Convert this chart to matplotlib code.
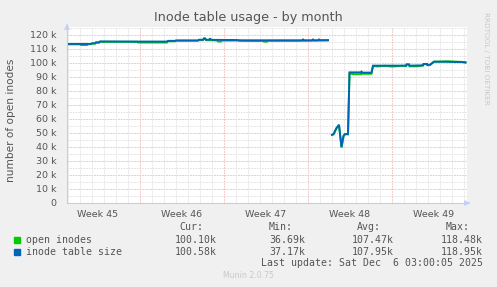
import matplotlib
matplotlib.use("Agg")
import matplotlib.pyplot as plt
import numpy as np

# ---- data (hours since graph start, values in thousands) ----
size_seg1_h = [0, 48, 50, 56, 58, 64, 66, 136, 200, 202, 216, 218, 262, 264, 272, 274, 276, 278,
               284, 286, 290, 340, 346, 470, 472, 474, 490, 492, 494, 502, 504, 506, 522]
size_seg1_v = [113.6, 113.6, 114.1, 114.1, 114.8, 114.8, 115.4, 115.3, 115.3, 115.8, 115.8, 116.1,
               116.1, 116.6, 116.6, 117.6, 117.6, 116.6, 116.6, 117.3, 116.5, 116.4, 116.2, 116.2,
               116.8, 116.2, 116.2, 116.8, 116.2, 116.2, 116.8, 116.3, 116.3]
open_seg1_h = [0, 26, 28, 40, 42, 48, 50, 56, 58, 64, 66, 140, 142, 200, 202, 216, 218, 262, 264,
               272, 274, 276, 278, 300, 302, 308, 310, 340, 346, 380, 392, 394, 400, 402, 460, 522]
open_seg1_v = [113.3, 113.3, 112.8, 112.8, 113.4, 113.4, 113.8, 113.8, 114.4, 114.4, 115.1, 115.1,
               114.6, 114.6, 115.5, 115.5, 115.9, 115.9, 116.3, 116.3, 117.3, 117.3, 116.3, 116.1,
               115.3, 115.3, 116.0, 116.0, 115.8, 115.7, 115.7, 115.2, 115.2, 115.8, 115.8, 116.1]

size_seg2_h = [530, 533, 539, 544, 547, 549, 553, 556, 562, 565, 588, 589, 591, 609, 612, 678, 679,
               684, 685, 712, 713, 720, 721, 726, 734, 797]
size_seg2_v = [48.8, 49.2, 53.6, 55.9, 46.4, 40.0, 48.0, 49.3, 49.3, 93.3, 93.3, 93.8, 93.1, 93.1,
               98.1, 98.1, 99.0, 99.0, 98.1, 98.3, 99.3, 99.3, 98.6, 98.8, 101.0, 100.6]
open_seg2_h = [530, 533, 539, 544, 547, 549, 553, 556, 562, 565, 574, 588, 589, 591, 609, 612, 622,
               636, 650, 670, 678, 679, 684, 685, 700, 712, 713, 720, 721, 726, 734, 760, 790, 797]
open_seg2_v = [48.5, 49.0, 53.3, 55.6, 46.0, 39.6, 47.6, 49.0, 49.0, 92.5, 92.0, 92.0, 93.4, 92.3,
               92.3, 97.8, 97.5, 98.0, 97.4, 98.0, 97.8, 98.8, 98.8, 97.6, 97.6, 98.2, 99.1, 99.1,
               98.4, 98.5, 100.8, 101.2, 100.8, 100.1]

week_labels = ["Week 45", "Week 46", "Week 47", "Week 48", "Week 49"]
week_bounds_h = [146, 314, 482, 650]
yticks_k = [0, 10, 20, 30, 40, 50, 60, 70, 80, 90, 100, 110, 120]

series_names = ["open inodes", "inode table size"]
cur_vals = ["100.10k", "100.58k"]
min_vals = ["36.69k", "37.17k"]
avg_vals = ["107.47k", "107.95k"]
max_vals = ["118.48k", "118.95k"]

GREEN = "#00CC00"
BLUE = "#0066B3"
W, H = 497, 287

fig = plt.figure(figsize=(W / 100, H / 100), dpi=100, facecolor="#F0F0F0")

def fx(px):
    return px / W

def fy(py):
    return 1 - py / H

ax_left, ax_right, ax_top, ax_bot = 67, 467, 27, 203
ax = fig.add_axes([fx(ax_left), fy(ax_bot), (ax_right - ax_left) / W, (ax_bot - ax_top) / H])
ax.set_facecolor("white")
ax.set_xlim(0, 800)
ax.set_ylim(0, 125.7)

# grid
minor_col = "#E0E0E0"
major_col = "#F0B8B8"
dash = (0, (2, 1.2))
for v in np.arange(5, 126, 10):
    ax.axhline(v, color=minor_col, lw=0.6, ls=dash, zorder=1)
for v in yticks_k[1:]:
    ax.axhline(v, color=major_col, lw=0.6, ls=dash, zorder=1)
day_lines = np.arange(week_bounds_h[0] - 6 * 24, 800, 24)
for d in day_lines:
    if d > 0 and d not in week_bounds_h:
        ax.axvline(d, color=minor_col, lw=0.6, ls=dash, zorder=1)
for d in week_bounds_h:
    ax.axvline(d, color=major_col, lw=0.6, ls=dash, zorder=1)

# data
ax.plot(open_seg1_h, open_seg1_v, color=GREEN, lw=1.4, zorder=3, solid_joinstyle="miter")
ax.plot(open_seg2_h, open_seg2_v, color=GREEN, lw=1.4, zorder=3, solid_joinstyle="miter")
ax.plot(size_seg1_h, size_seg1_v, color=BLUE, lw=1.4, zorder=4, solid_joinstyle="miter")
ax.plot(size_seg2_h, size_seg2_v, color=BLUE, lw=1.4, zorder=4, solid_joinstyle="miter")

# axes styling
for s in ax.spines.values():
    s.set_visible(False)
ax.set_xticks([])
ax.set_yticks(yticks_k)
ax.set_yticklabels(["0" if v == 0 else f"{v} k" for v in yticks_k])
ax.tick_params(axis="y", length=0, pad=7.5, labelsize=6.8, labelcolor="#555555")

axis_col = "#C8CCF0"
fig.add_artist(plt.Line2D([fx(67), fx(468)], [fy(203), fy(203)], color=axis_col, lw=0.8))
fig.add_artist(plt.Line2D([fx(67), fx(67)], [fy(203), fy(26)], color=axis_col, lw=0.8))
ax.annotate("", xy=(fx(473), fy(203)), xytext=(fx(466), fy(203)), xycoords="figure fraction",
            arrowprops=dict(arrowstyle="-|>,head_length=0.35,head_width=0.17", color="#C8D0F8", lw=0.6))
ax.annotate("", xy=(fx(67), fy(21)), xytext=(fx(67), fy(28)), xycoords="figure fraction",
            arrowprops=dict(arrowstyle="-|>,head_length=0.35,head_width=0.17", color="#C8D0F8", lw=0.6))

for i, lab in enumerate(week_labels):
    mid = week_bounds_h[0] - 84 + i * 168
    ax.text(mid, -5.2, lab, ha="center", va="top", fontsize=6.8, color="#555555", clip_on=False)

# titles
fig.text(0.5, fy(18), "Inode table usage - by month", ha="center", va="center", fontsize=9.2,
         color="#555555")
fig.text(fx(11), fy(120), "number of open inodes", rotation=90, ha="center", va="center",
         fontsize=7.6, color="#555555")
fig.text(fx(486), fy(58), "RRDTOOL / TOBI OETIKER", rotation=270, ha="center", va="center",
         fontsize=5.2, color="#C8C8C8")

# legend
mono = "DejaVu Sans Mono"
lfs = 7.1
lcol = "#555555"
fig.text(fx(203.7), fy(227), "Cur:", ha="right", va="center", family=mono, fontsize=lfs, color=lcol)
fig.text(fx(292.3), fy(227), "Min:", ha="right", va="center", family=mono, fontsize=lfs, color=lcol)
fig.text(fx(381), fy(227), "Avg:", ha="right", va="center", family=mono, fontsize=lfs, color=lcol)
fig.text(fx(470), fy(227), "Max:", ha="right", va="center", family=mono, fontsize=lfs, color=lcol)
rows_y = [240, 252]
for name, col, cu, mi, av, ma, ry in zip(series_names, [GREEN, BLUE], cur_vals, min_vals,
                                          avg_vals, max_vals, rows_y):
    fig.add_artist(plt.Rectangle((fx(14), fy(ry + 2.5)), 5.5 / W, 5.5 / H, color=col,
                                 transform=fig.transFigure))
    fig.text(fx(26), fy(ry), name, ha="left", va="center", family=mono, fontsize=lfs, color=lcol)
    fig.text(fx(216.7), fy(ry), cu, ha="right", va="center", family=mono, fontsize=lfs, color=lcol)
    fig.text(fx(305), fy(ry), mi, ha="right", va="center", family=mono, fontsize=lfs, color=lcol)
    fig.text(fx(394), fy(ry), av, ha="right", va="center", family=mono, fontsize=lfs, color=lcol)
    fig.text(fx(482.7), fy(ry), ma, ha="right", va="center", family=mono, fontsize=lfs, color=lcol)
fig.text(fx(482.7), fy(263.5), "Last update: Sat Dec  6 03:00:05 2025", ha="right", va="center",
         family=mono, fontsize=lfs, color=lcol)
fig.text(0.5, fy(276), "Munin 2.0.75", ha="center", va="center", fontsize=5.6, color="#C8C8C8")

fig.savefig("out.png", dpi=100, facecolor=fig.get_facecolor())
